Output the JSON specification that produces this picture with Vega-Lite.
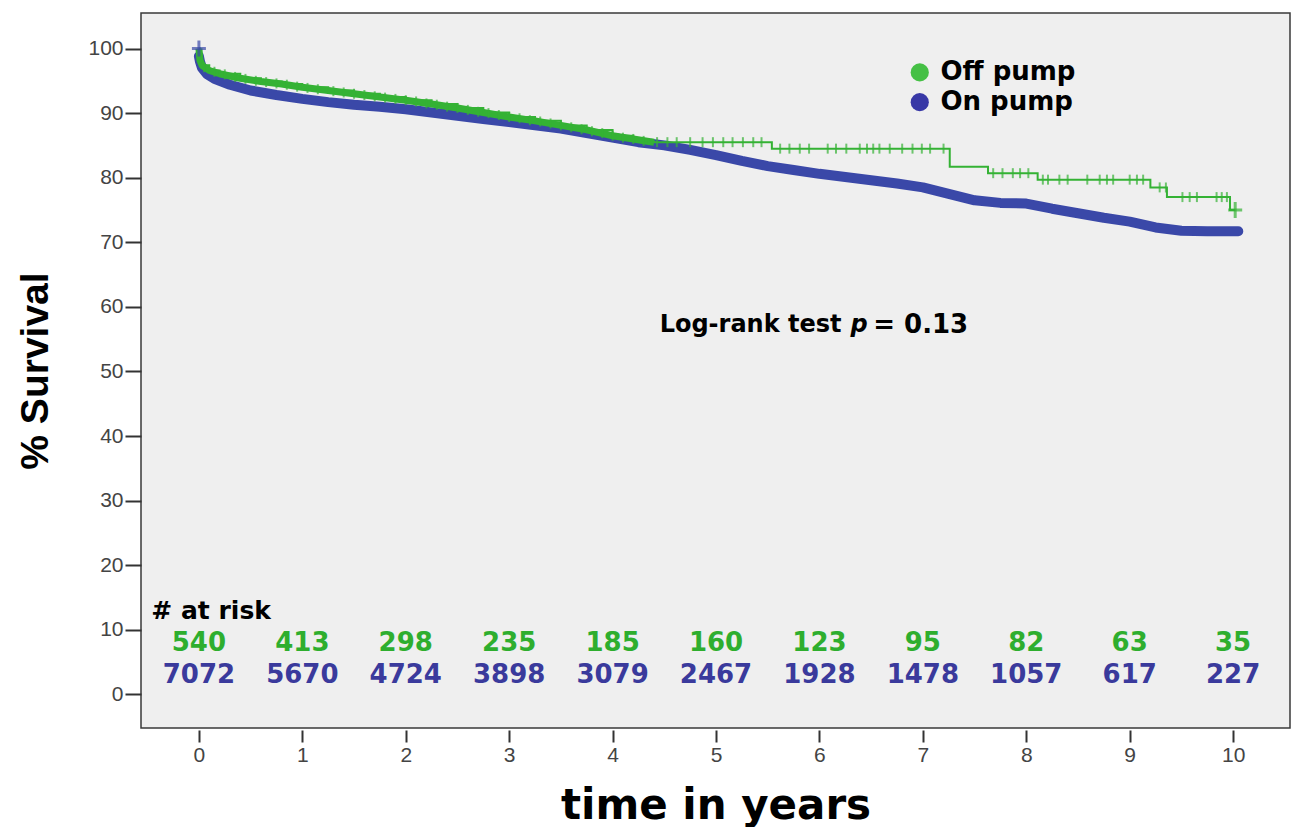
{
  "$schema": "https://vega.github.io/schema/vega-lite/v6.json",
  "width": 1149,
  "height": 715,
  "autosize": {"type": "none"},
  "padding": {"left": 141, "top": 13, "right": 8, "bottom": 99},
  "background": "white",
  "config": {
    "view": {"stroke": "#3a3a3a", "strokeWidth": 1.5, "fill": "#efefef"},
    "font": "Liberation Sans"
  },
  "datasets": {
    "curves": [
      {"group": "On pump", "time": 0, "surv": 98.8},
      {"group": "On pump", "time": 0.01, "surv": 98.0},
      {"group": "On pump", "time": 0.03, "surv": 97.0},
      {"group": "On pump", "time": 0.08, "surv": 96.0},
      {"group": "On pump", "time": 0.15, "surv": 95.3},
      {"group": "On pump", "time": 0.3, "surv": 94.4},
      {"group": "On pump", "time": 0.5, "surv": 93.5},
      {"group": "On pump", "time": 0.75, "surv": 92.8},
      {"group": "On pump", "time": 1.0, "surv": 92.2},
      {"group": "On pump", "time": 1.25, "surv": 91.7},
      {"group": "On pump", "time": 1.5, "surv": 91.3},
      {"group": "On pump", "time": 1.75, "surv": 91.0},
      {"group": "On pump", "time": 2.0, "surv": 90.6},
      {"group": "On pump", "time": 2.25, "surv": 90.1},
      {"group": "On pump", "time": 2.5, "surv": 89.6},
      {"group": "On pump", "time": 2.75, "surv": 89.1},
      {"group": "On pump", "time": 3.0, "surv": 88.6},
      {"group": "On pump", "time": 3.25, "surv": 88.1},
      {"group": "On pump", "time": 3.5, "surv": 87.6},
      {"group": "On pump", "time": 3.75, "surv": 86.9},
      {"group": "On pump", "time": 4.0, "surv": 86.2},
      {"group": "On pump", "time": 4.25, "surv": 85.5},
      {"group": "On pump", "time": 4.5, "surv": 85.0},
      {"group": "On pump", "time": 4.75, "surv": 84.3},
      {"group": "On pump", "time": 5.0, "surv": 83.5},
      {"group": "On pump", "time": 5.25, "surv": 82.6},
      {"group": "On pump", "time": 5.5, "surv": 81.8},
      {"group": "On pump", "time": 5.75, "surv": 81.2},
      {"group": "On pump", "time": 6.0, "surv": 80.6},
      {"group": "On pump", "time": 6.25, "surv": 80.1},
      {"group": "On pump", "time": 6.5, "surv": 79.6},
      {"group": "On pump", "time": 6.75, "surv": 79.1},
      {"group": "On pump", "time": 7.0, "surv": 78.5},
      {"group": "On pump", "time": 7.25, "surv": 77.5},
      {"group": "On pump", "time": 7.5, "surv": 76.5},
      {"group": "On pump", "time": 7.75, "surv": 76.1},
      {"group": "On pump", "time": 8.0, "surv": 76.0},
      {"group": "On pump", "time": 8.25, "surv": 75.2},
      {"group": "On pump", "time": 8.5, "surv": 74.5},
      {"group": "On pump", "time": 8.75, "surv": 73.8},
      {"group": "On pump", "time": 9.0, "surv": 73.2},
      {"group": "On pump", "time": 9.25, "surv": 72.3},
      {"group": "On pump", "time": 9.5, "surv": 71.8},
      {"group": "On pump", "time": 9.75, "surv": 71.7},
      {"group": "On pump", "time": 10.05, "surv": 71.7},
      {"group": "Off pump", "time": 0, "surv": 100},
      {"group": "Off pump", "time": 0.01, "surv": 98.2},
      {"group": "Off pump", "time": 0.03, "surv": 97.4},
      {"group": "Off pump", "time": 0.1, "surv": 96.6},
      {"group": "Off pump", "time": 0.2, "surv": 96.1},
      {"group": "Off pump", "time": 0.4, "surv": 95.4},
      {"group": "Off pump", "time": 0.6, "surv": 94.9},
      {"group": "Off pump", "time": 0.8, "surv": 94.5},
      {"group": "Off pump", "time": 1.0, "surv": 94.0},
      {"group": "Off pump", "time": 1.25, "surv": 93.5},
      {"group": "Off pump", "time": 1.5, "surv": 93.0},
      {"group": "Off pump", "time": 1.75, "surv": 92.5},
      {"group": "Off pump", "time": 2.0, "surv": 92.0},
      {"group": "Off pump", "time": 2.25, "surv": 91.4},
      {"group": "Off pump", "time": 2.5, "surv": 90.8},
      {"group": "Off pump", "time": 2.75, "surv": 90.1},
      {"group": "Off pump", "time": 3.0, "surv": 89.4},
      {"group": "Off pump", "time": 3.25, "surv": 88.8},
      {"group": "Off pump", "time": 3.5, "surv": 88.1},
      {"group": "Off pump", "time": 3.75, "surv": 87.4},
      {"group": "Off pump", "time": 4.0, "surv": 86.5},
      {"group": "Off pump", "time": 4.2, "surv": 86.0},
      {"group": "Off pump", "time": 4.35, "surv": 85.6},
      {"group": "Off pump", "time": 4.4, "surv": 85.5},
      {"group": "Off pump", "time": 5.54, "surv": 84.5},
      {"group": "Off pump", "time": 7.26, "surv": 81.7},
      {"group": "Off pump", "time": 7.63, "surv": 80.7},
      {"group": "Off pump", "time": 8.11, "surv": 79.7},
      {"group": "Off pump", "time": 9.2, "surv": 78.5},
      {"group": "Off pump", "time": 9.36, "surv": 77.0},
      {"group": "Off pump", "time": 9.97, "surv": 75.0},
      {"group": "Off pump", "time": 10.02, "surv": 75.0}
    ],
    "censor": [
      {"group": "Off pump", "time": 0.05, "surv": 97.1},
      {"group": "Off pump", "time": 0.15, "surv": 96.4},
      {"group": "Off pump", "time": 0.25, "surv": 96.0},
      {"group": "Off pump", "time": 0.35, "surv": 95.6},
      {"group": "Off pump", "time": 0.45, "surv": 95.3},
      {"group": "Off pump", "time": 0.55, "surv": 95.0},
      {"group": "Off pump", "time": 0.65, "surv": 94.8},
      {"group": "Off pump", "time": 0.75, "surv": 94.6},
      {"group": "Off pump", "time": 0.85, "surv": 94.4},
      {"group": "Off pump", "time": 0.95, "surv": 94.1},
      {"group": "Off pump", "time": 1.05, "surv": 93.9},
      {"group": "Off pump", "time": 1.15, "surv": 93.7},
      {"group": "Off pump", "time": 1.3, "surv": 93.4},
      {"group": "Off pump", "time": 1.4, "surv": 93.2},
      {"group": "Off pump", "time": 1.5, "surv": 93.0},
      {"group": "Off pump", "time": 1.6, "surv": 92.8},
      {"group": "Off pump", "time": 1.7, "surv": 92.6},
      {"group": "Off pump", "time": 1.8, "surv": 92.4},
      {"group": "Off pump", "time": 1.9, "surv": 92.2},
      {"group": "Off pump", "time": 2.0, "surv": 92.0},
      {"group": "Off pump", "time": 2.1, "surv": 91.8},
      {"group": "Off pump", "time": 2.2, "surv": 91.5},
      {"group": "Off pump", "time": 2.3, "surv": 91.3},
      {"group": "Off pump", "time": 2.4, "surv": 91.0},
      {"group": "Off pump", "time": 2.5, "surv": 90.8},
      {"group": "Off pump", "time": 2.6, "surv": 90.5},
      {"group": "Off pump", "time": 2.7, "surv": 90.2},
      {"group": "Off pump", "time": 2.8, "surv": 90.0},
      {"group": "Off pump", "time": 2.9, "surv": 89.7},
      {"group": "Off pump", "time": 3.0, "surv": 89.4},
      {"group": "Off pump", "time": 3.1, "surv": 89.2},
      {"group": "Off pump", "time": 3.2, "surv": 88.9},
      {"group": "Off pump", "time": 3.3, "surv": 88.7},
      {"group": "Off pump", "time": 3.4, "surv": 88.4},
      {"group": "Off pump", "time": 3.5, "surv": 88.1},
      {"group": "Off pump", "time": 3.6, "surv": 87.8},
      {"group": "Off pump", "time": 3.7, "surv": 87.5},
      {"group": "Off pump", "time": 3.8, "surv": 87.2},
      {"group": "Off pump", "time": 3.9, "surv": 86.9},
      {"group": "Off pump", "time": 4.0, "surv": 86.5},
      {"group": "Off pump", "time": 4.1, "surv": 86.2},
      {"group": "Off pump", "time": 4.2, "surv": 86.0},
      {"group": "Off pump", "time": 4.3, "surv": 85.7},
      {"group": "Off pump", "time": 4.43, "surv": 85.5},
      {"group": "Off pump", "time": 4.53, "surv": 85.5},
      {"group": "Off pump", "time": 4.62, "surv": 85.5},
      {"group": "Off pump", "time": 4.75, "surv": 85.5},
      {"group": "Off pump", "time": 4.87, "surv": 85.5},
      {"group": "Off pump", "time": 4.97, "surv": 85.5},
      {"group": "Off pump", "time": 5.07, "surv": 85.5},
      {"group": "Off pump", "time": 5.16, "surv": 85.5},
      {"group": "Off pump", "time": 5.26, "surv": 85.5},
      {"group": "Off pump", "time": 5.36, "surv": 85.5},
      {"group": "Off pump", "time": 5.44, "surv": 85.5},
      {"group": "Off pump", "time": 5.62, "surv": 84.5},
      {"group": "Off pump", "time": 5.71, "surv": 84.5},
      {"group": "Off pump", "time": 5.81, "surv": 84.5},
      {"group": "Off pump", "time": 5.9, "surv": 84.5},
      {"group": "Off pump", "time": 6.08, "surv": 84.5},
      {"group": "Off pump", "time": 6.16, "surv": 84.5},
      {"group": "Off pump", "time": 6.26, "surv": 84.5},
      {"group": "Off pump", "time": 6.39, "surv": 84.5},
      {"group": "Off pump", "time": 6.46, "surv": 84.5},
      {"group": "Off pump", "time": 6.52, "surv": 84.5},
      {"group": "Off pump", "time": 6.58, "surv": 84.5},
      {"group": "Off pump", "time": 6.68, "surv": 84.5},
      {"group": "Off pump", "time": 6.8, "surv": 84.5},
      {"group": "Off pump", "time": 6.9, "surv": 84.5},
      {"group": "Off pump", "time": 6.99, "surv": 84.5},
      {"group": "Off pump", "time": 7.07, "surv": 84.5},
      {"group": "Off pump", "time": 7.2, "surv": 84.5},
      {"group": "Off pump", "time": 7.68, "surv": 80.7},
      {"group": "Off pump", "time": 7.77, "surv": 80.7},
      {"group": "Off pump", "time": 7.87, "surv": 80.7},
      {"group": "Off pump", "time": 7.94, "surv": 80.7},
      {"group": "Off pump", "time": 8.02, "surv": 80.7},
      {"group": "Off pump", "time": 8.16, "surv": 79.7},
      {"group": "Off pump", "time": 8.21, "surv": 79.7},
      {"group": "Off pump", "time": 8.32, "surv": 79.7},
      {"group": "Off pump", "time": 8.4, "surv": 79.7},
      {"group": "Off pump", "time": 8.59, "surv": 79.7},
      {"group": "Off pump", "time": 8.71, "surv": 79.7},
      {"group": "Off pump", "time": 8.78, "surv": 79.7},
      {"group": "Off pump", "time": 8.84, "surv": 79.7},
      {"group": "Off pump", "time": 9.0, "surv": 79.7},
      {"group": "Off pump", "time": 9.07, "surv": 79.7},
      {"group": "Off pump", "time": 9.13, "surv": 79.7},
      {"group": "Off pump", "time": 9.29, "surv": 78.5},
      {"group": "Off pump", "time": 9.35, "surv": 78.5},
      {"group": "Off pump", "time": 9.51, "surv": 77.0},
      {"group": "Off pump", "time": 9.58, "surv": 77.0},
      {"group": "Off pump", "time": 9.65, "surv": 77.0},
      {"group": "Off pump", "time": 9.84, "surv": 77.0},
      {"group": "Off pump", "time": 9.89, "surv": 77.0},
      {"group": "Off pump", "time": 9.94, "surv": 77.0}
    ],
    "bigcensor": [
      {"group": "On pump", "time": 0, "surv": 100},
      {"group": "Off pump", "time": 10.02, "surv": 75.0}
    ],
    "atrisk": [
      {"group": "Off pump", "time": 0, "n": "540"},
      {"group": "Off pump", "time": 1, "n": "413"},
      {"group": "Off pump", "time": 2, "n": "298"},
      {"group": "Off pump", "time": 3, "n": "235"},
      {"group": "Off pump", "time": 4, "n": "185"},
      {"group": "Off pump", "time": 5, "n": "160"},
      {"group": "Off pump", "time": 6, "n": "123"},
      {"group": "Off pump", "time": 7, "n": "95"},
      {"group": "Off pump", "time": 8, "n": "82"},
      {"group": "Off pump", "time": 9, "n": "63"},
      {"group": "Off pump", "time": 10, "n": "35"},
      {"group": "On pump", "time": 0, "n": "7072"},
      {"group": "On pump", "time": 1, "n": "5670"},
      {"group": "On pump", "time": 2, "n": "4724"},
      {"group": "On pump", "time": 3, "n": "3898"},
      {"group": "On pump", "time": 4, "n": "3079"},
      {"group": "On pump", "time": 5, "n": "2467"},
      {"group": "On pump", "time": 6, "n": "1928"},
      {"group": "On pump", "time": 7, "n": "1478"},
      {"group": "On pump", "time": 8, "n": "1057"},
      {"group": "On pump", "time": 9, "n": "617"},
      {"group": "On pump", "time": 10, "n": "227"}
    ],
    "notes": [
      {"label": "# at risk"},
      {"label": "Log-rank test"},
      {"label": "p"},
      {"label": "= 0.13"}
    ],
    "legend": [
      {"group": "Off pump"},
      {"group": "On pump"}
    ]
  },
  "layer": [
    {
      "data": {"name": "atrisk"},
      "transform": [{"filter": "datum.group === 'Off pump'"}],
      "mark": {"type": "text", "align": "center", "baseline": "middle", "font": "DejaVu Sans", "fontWeight": "bold", "fontSize": 26, "fill": "#2eae2e"},
      "encoding": {
        "x": {"field": "time", "type": "quantitative", "scale": {"domain": [-0.56, 10.55], "nice": false, "zero": false},
          "axis": {
            "values": [0, 1, 2, 3, 4, 5, 6, 7, 8, 9, 10],
            "format": "d",
            "grid": false,
            "domain": false,
            "offset": 2,
            "tickSize": 12,
            "tickWidth": 2,
            "tickColor": "#333333",
            "labelPadding": 2,
            "labelFont": "Liberation Sans",
            "labelFontSize": 21,
            "labelColor": "#444444",
            "title": "time in years",
            "titleFont": "DejaVu Sans",
            "titleFontWeight": "bold",
            "titleFontSize": 42,
            "titleColor": "#000000",
            "titlePadding": 20
          }},
        "y": {"datum": 7.9, "type": "quantitative", "scale": {"domain": [-5.2, 105.5], "nice": false, "zero": false},
          "axis": {
            "values": [0, 10, 20, 30, 40, 50, 60, 70, 80, 90, 100],
            "format": "d",
            "grid": false,
            "domain": false,
            "tickSize": 16,
            "tickWidth": 2,
            "tickColor": "#333333",
            "labelPadding": 2,
            "labelFont": "Liberation Sans",
            "labelFontSize": 21,
            "labelColor": "#444444",
            "title": "% Survival",
            "titleFont": "Liberation Sans",
            "titleFontWeight": "bold",
            "titleFontSize": 39,
            "titleColor": "#000000",
            "titlePadding": 32
          }},
        "text": {"field": "n", "type": "nominal"}
      }
    },
    {
      "data": {"name": "atrisk"},
      "transform": [{"filter": "datum.group === 'On pump'"}],
      "mark": {"type": "text", "align": "center", "baseline": "middle", "font": "DejaVu Sans", "fontWeight": "bold", "fontSize": 26, "fill": "#3a3a9c"},
      "encoding": {
        "x": {"field": "time", "type": "quantitative"},
        "y": {"datum": 3.0, "type": "quantitative"},
        "text": {"field": "n", "type": "nominal"}
      }
    },
    {
      "data": {"name": "notes"},
      "transform": [{"filter": "datum.label === '# at risk'"}],
      "mark": {"type": "text", "align": "left", "baseline": "middle", "font": "DejaVu Sans", "fontWeight": "bold", "fontSize": 25, "fill": "#000000"},
      "encoding": {
        "x": {"datum": -0.46, "type": "quantitative"},
        "y": {"datum": 12.9, "type": "quantitative"},
        "text": {"field": "label", "type": "nominal"}
      }
    },
    {
      "data": {"name": "notes"},
      "transform": [{"filter": "datum.label === 'Log-rank test'"}],
      "mark": {"type": "text", "align": "left", "baseline": "middle", "font": "DejaVu Sans", "fontWeight": "bold", "fontSize": 24, "fill": "#000000"},
      "encoding": {
        "x": {"datum": 4.455, "type": "quantitative"},
        "y": {"datum": 57.2, "type": "quantitative"},
        "text": {"field": "label", "type": "nominal"}
      }
    },
    {
      "data": {"name": "notes"},
      "transform": [{"filter": "datum.label === 'p'"}],
      "mark": {"type": "text", "align": "left", "baseline": "middle", "font": "DejaVu Sans", "fontWeight": "bold", "fontStyle": "italic", "fontSize": 24, "fill": "#000000"},
      "encoding": {
        "x": {"datum": 6.3, "type": "quantitative"},
        "y": {"datum": 57.2, "type": "quantitative"},
        "text": {"field": "label", "type": "nominal"}
      }
    },
    {
      "data": {"name": "notes"},
      "transform": [{"filter": "datum.label === '= 0.13'"}],
      "mark": {"type": "text", "align": "left", "baseline": "middle", "font": "DejaVu Sans", "fontWeight": "bold", "fontSize": 26, "fill": "#000000"},
      "encoding": {
        "x": {"datum": 6.52, "type": "quantitative"},
        "y": {"datum": 57.2, "type": "quantitative"},
        "text": {"field": "label", "type": "nominal"}
      }
    },
    {
      "data": {"name": "legend"},
      "transform": [{"filter": "datum.group === 'Off pump'"}],
      "mark": {"type": "point", "shape": "circle", "filled": true, "size": 330, "opacity": 1, "fill": "#45c045"},
      "encoding": {
        "x": {"datum": 6.97, "type": "quantitative"},
        "y": {"datum": 96.3, "type": "quantitative"}
      }
    },
    {
      "data": {"name": "legend"},
      "transform": [{"filter": "datum.group === 'On pump'"}],
      "mark": {"type": "point", "shape": "circle", "filled": true, "size": 330, "opacity": 1, "fill": "#3838a6"},
      "encoding": {
        "x": {"datum": 6.97, "type": "quantitative"},
        "y": {"datum": 91.7, "type": "quantitative"}
      }
    },
    {
      "data": {"name": "legend"},
      "transform": [{"filter": "datum.group === 'Off pump'"}],
      "mark": {"type": "text", "align": "left", "baseline": "middle", "font": "DejaVu Sans", "fontWeight": "bold", "fontSize": 26, "fill": "#000000"},
      "encoding": {
        "x": {"datum": 7.17, "type": "quantitative"},
        "y": {"datum": 96.3, "type": "quantitative"},
        "text": {"field": "group", "type": "nominal"}
      }
    },
    {
      "data": {"name": "legend"},
      "transform": [{"filter": "datum.group === 'On pump'"}],
      "mark": {"type": "text", "align": "left", "baseline": "middle", "font": "DejaVu Sans", "fontWeight": "bold", "fontSize": 26, "fill": "#000000"},
      "encoding": {
        "x": {"datum": 7.17, "type": "quantitative"},
        "y": {"datum": 91.7, "type": "quantitative"},
        "text": {"field": "group", "type": "nominal"}
      }
    },
    {
      "data": {"name": "curves"},
      "transform": [{"filter": "datum.group === 'On pump'"}],
      "mark": {"type": "line", "interpolate": "linear", "strokeWidth": 10, "strokeCap": "round", "strokeJoin": "round"},
      "encoding": {
        "x": {"field": "time", "type": "quantitative"},
        "y": {"field": "surv", "type": "quantitative"},
        "stroke": {"field": "group", "type": "nominal", "scale": {"domain": ["Off pump", "On pump"], "range": ["#34b234", "#3a48a8"]}, "legend": null}
      }
    },
    {
      "data": {"name": "curves"},
      "transform": [{"filter": "datum.group === 'Off pump' && datum.time <= 4.4"}],
      "mark": {"type": "line", "interpolate": "linear", "strokeWidth": 7, "strokeCap": "butt", "strokeJoin": "round"},
      "encoding": {
        "x": {"field": "time", "type": "quantitative"},
        "y": {"field": "surv", "type": "quantitative"},
        "stroke": {"field": "group", "type": "nominal", "scale": {"domain": ["Off pump", "On pump"], "range": ["#34b234", "#3a48a8"]}, "legend": null}
      }
    },
    {
      "data": {"name": "curves"},
      "transform": [{"filter": "datum.group === 'Off pump'"}],
      "mark": {"type": "line", "interpolate": "step-after", "strokeWidth": 2},
      "encoding": {
        "x": {"field": "time", "type": "quantitative"},
        "y": {"field": "surv", "type": "quantitative"},
        "stroke": {"field": "group", "type": "nominal", "scale": {"domain": ["Off pump", "On pump"], "range": ["#34b234", "#3a48a8"]}, "legend": null}
      }
    },
    {
      "data": {"name": "censor"},
      "mark": {"type": "tick", "orient": "vertical", "size": 10, "thickness": 2},
      "encoding": {
        "x": {"field": "time", "type": "quantitative"},
        "y": {"field": "surv", "type": "quantitative"},
        "fill": {"field": "group", "type": "nominal", "scale": {"domain": ["Off pump", "On pump"], "range": ["#34b234", "#3a48a8"]}, "legend": null}
      }
    },
    {
      "data": {"name": "bigcensor"},
      "mark": {"type": "tick", "orient": "vertical", "size": 16, "thickness": 3},
      "encoding": {
        "x": {"field": "time", "type": "quantitative"},
        "y": {"field": "surv", "type": "quantitative"},
        "fill": {"field": "group", "type": "nominal", "scale": {"domain": ["Off pump", "On pump"], "range": ["#34b234", "#3a48a8"]}, "legend": null}
      }
    },
    {
      "data": {"name": "bigcensor"},
      "mark": {"type": "tick", "orient": "horizontal", "size": 14, "thickness": 3},
      "encoding": {
        "x": {"field": "time", "type": "quantitative"},
        "y": {"field": "surv", "type": "quantitative"},
        "fill": {"field": "group", "type": "nominal", "scale": {"domain": ["Off pump", "On pump"], "range": ["#34b234", "#3a48a8"]}, "legend": null}
      }
    }
  ]
}
